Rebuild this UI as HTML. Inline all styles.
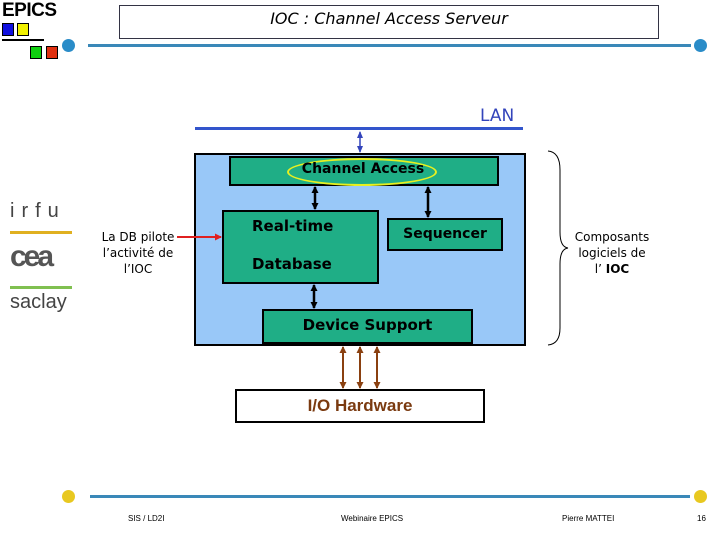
<!DOCTYPE html>
<html><head><meta charset="utf-8"><style>
body{margin:0;width:720px;height:540px;background:#fff;position:relative;overflow:hidden;font-family:"Liberation Sans",sans-serif}
.a{position:absolute}
.g{background:#1fae86;border:2px solid #000;box-sizing:border-box}
.c{font-family:"Comic Sans MS","DejaVu Sans",sans-serif}
</style></head><body>
<div class="a" style="left:2px;top:0;font-weight:bold;font-size:19px;letter-spacing:-0.5px">EPICS</div>
<div class="a" style="left:2px;top:23px;width:10px;height:11px;background:#1010e0;border:1px solid #000"></div>
<div class="a" style="left:17px;top:23px;width:10px;height:11px;background:#f0f000;border:1px solid #000"></div>
<div class="a" style="left:2px;top:39px;width:42px;height:2px;background:#000"></div>
<div class="a" style="left:30px;top:46px;width:10px;height:11px;background:#10d010;border:1px solid #000"></div>
<div class="a" style="left:46px;top:46px;width:10px;height:11px;background:#e03010;border:1px solid #000"></div>
<div class="a" style="left:119px;top:5px;width:538px;height:32px;border:1px solid #334;"></div>
<div class="a c" style="left:119px;top:9px;width:540px;text-align:center;font-style:italic;font-size:16px">IOC : Channel Access Serveur</div>
<div class="a" style="left:88px;top:44px;width:603px;height:3px;background:#3a88b8"></div>
<div class="a" style="left:62px;top:39px;width:13px;height:13px;border-radius:50%;background:#2a8cc8"></div>
<div class="a" style="left:694px;top:39px;width:13px;height:13px;border-radius:50%;background:#2a8cc8"></div>
<div class="a" style="left:90px;top:495px;width:600px;height:3px;background:#3a88b8"></div>
<div class="a" style="left:62px;top:490px;width:13px;height:13px;border-radius:50%;background:#e8c820"></div>
<div class="a" style="left:694px;top:490px;width:13px;height:13px;border-radius:50%;background:#e8c820"></div>
<div class="a" style="left:128px;top:514px;font-size:8px">SIS / LD2I</div>
<div class="a" style="left:341px;top:514px;font-size:8px">Webinaire EPICS</div>
<div class="a" style="left:562px;top:514px;font-size:8px">Pierre MATTEI</div>
<div class="a" style="left:697px;top:514px;font-size:8px">16</div>
<div class="a" style="left:10px;top:200px;font-size:20px;color:#444;letter-spacing:7px">irfu</div>
<div class="a" style="left:10px;top:231px;width:62px;height:3px;background:#e0b020"></div>
<div class="a" style="left:10px;top:240px;font-size:30px;color:#555;letter-spacing:-3px;font-weight:bold">cea</div>
<div class="a" style="left:10px;top:286px;width:62px;height:3px;background:#80c050"></div>
<div class="a" style="left:10px;top:291px;font-size:20px;color:#444">saclay</div>
<div class="a c" style="left:90px;top:229px;width:96px;text-align:center;font-size:12px;line-height:16px">La DB pilote<br>l’activité de<br>l’IOC</div>
<div class="a" style="left:195px;top:127px;width:328px;height:3px;background:#3355cc"></div>
<div class="a c" style="left:480px;top:106px;font-size:17px;color:#3344bb">LAN</div>
<div class="a" style="left:194px;top:153px;width:332px;height:193px;background:#99c8f8;border:2px solid #000;box-sizing:border-box"></div>
<div class="a g" style="left:229px;top:156px;width:270px;height:30px"></div>
<div class="a" style="left:287px;top:158px;width:146px;height:24px;border:2px solid #e8f020;border-radius:50%"></div>
<div class="a c" style="left:229px;top:161px;width:268px;text-align:center;font-size:14px;font-weight:bold">Channel Access</div>
<div class="a g" style="left:222px;top:210px;width:157px;height:74px"></div>
<div class="a c" style="left:252px;top:217px;font-size:15px;font-weight:bold">Real-time</div>
<div class="a c" style="left:252px;top:255px;font-size:15px;font-weight:bold">Database</div>
<div class="a g" style="left:387px;top:218px;width:116px;height:33px"></div>
<div class="a c" style="left:387px;top:226px;width:116px;text-align:center;font-size:14px;font-weight:bold">Sequencer</div>
<div class="a g" style="left:262px;top:309px;width:211px;height:35px"></div>
<div class="a c" style="left:262px;top:316px;width:211px;text-align:center;font-size:15px;font-weight:bold">Device Support</div>
<div class="a" style="left:235px;top:389px;width:250px;height:34px;border:2px solid #000;box-sizing:border-box;background:#fff"></div>
<div class="a" style="left:235px;top:396px;width:250px;text-align:center;font-size:17px;font-weight:bold;color:#7a3a10">I/O Hardware</div>
<svg class="a" style="left:0;top:0" width="720" height="540">
<defs>
<marker id="k" markerUnits="userSpaceOnUse" markerWidth="8" markerHeight="8" refX="6" refY="4" orient="auto-start-reverse"><path d="M0,0.5L7,4L0,7.5z" fill="#000"/></marker>
<marker id="b" markerUnits="userSpaceOnUse" markerWidth="8" markerHeight="8" refX="6" refY="4" orient="auto-start-reverse"><path d="M0,0.5L7,4L0,7.5z" fill="#8a4010"/></marker>
<marker id="u" markerUnits="userSpaceOnUse" markerWidth="8" markerHeight="8" refX="6" refY="4" orient="auto-start-reverse"><path d="M0,1L7,4L0,7z" fill="#3344bb"/></marker>
<marker id="r" markerUnits="userSpaceOnUse" markerWidth="8" markerHeight="8" refX="6" refY="4" orient="auto"><path d="M0,0.5L7,4L0,7.5z" fill="#e02020"/></marker>
</defs>
<line x1="360" y1="132" x2="360" y2="152" stroke="#3344bb" stroke-width="1.5" marker-start="url(#u)" marker-end="url(#u)"/>
<g stroke="#000" stroke-width="2.5">
<line x1="315" y1="187" x2="315" y2="209" marker-start="url(#k)" marker-end="url(#k)"/>
<line x1="428" y1="187" x2="428" y2="217" marker-start="url(#k)" marker-end="url(#k)"/>
<line x1="314" y1="285" x2="314" y2="308" marker-start="url(#k)" marker-end="url(#k)"/>
</g>
<g stroke="#8a4010" stroke-width="2">
<line x1="343" y1="347" x2="343" y2="388" marker-start="url(#b)" marker-end="url(#b)"/>
<line x1="360" y1="347" x2="360" y2="388" marker-start="url(#b)" marker-end="url(#b)"/>
<line x1="377" y1="347" x2="377" y2="388" marker-start="url(#b)" marker-end="url(#b)"/>
</g>
<line x1="177" y1="237" x2="221" y2="237" stroke="#e02020" stroke-width="2" marker-end="url(#r)"/>
<path d="M548,151 Q560,152 560,170 L560,232 Q560,247 568,248 Q560,249 560,264 L560,328 Q560,344 548,345" fill="none" stroke="#000" stroke-width="1"/>
</svg>
<div class="a c" style="left:566px;top:229px;width:92px;text-align:center;font-size:12px;line-height:16px">Composants<br>logiciels de<br>l’ <b>IOC</b></div>
</body></html>
